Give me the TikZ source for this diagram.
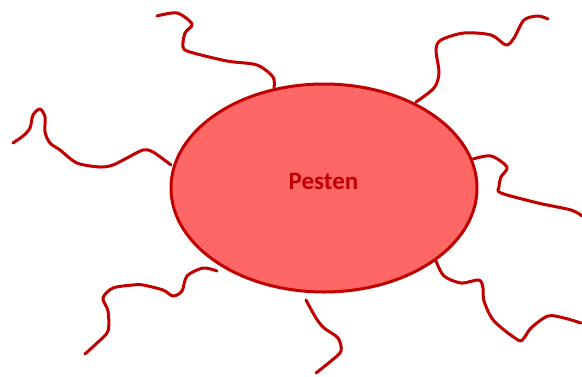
\documentclass[tikz,border=0pt]{standalone}
\usepackage{fontspec}
\setmainfont{Carlito}
\usetikzlibrary{shapes.geometric}
\definecolor{dred}{HTML}{C00000}
\definecolor{lred}{HTML}{FF6666}
\begin{document}
\begin{tikzpicture}[x=1pt,y=-1pt,
  strand/.style={draw=dred,line width=3pt,line cap=round,line join=round},
  hub/.style={ellipse,draw=dred,line width=3pt,fill=lred,minimum width=306pt,minimum height=208pt,inner sep=0pt},
  lbl/.style={font=\bfseries\fontsize{25}{28}\selectfont,text=dred,anchor=base}]
\useasboundingbox (0,0) rectangle (582,376);
\node[hub] (c) at (324,188) {};
\node[lbl] (t) at (323.5,189) {Pesten};
% strand endpoints
\coordinate (a1) at (157,16);
\coordinate (a2) at (13,143);
\coordinate (a3) at (548,19);
\coordinate (a4) at (582,216);
\coordinate (a5) at (581,323);
\coordinate (a6) at (316,373);
\coordinate (a7) at (85,354);
\begin{scope}[strand]
\draw plot[smooth,tension=0.5] coordinates {(274,88) (273,77) (257,65) (227,61) (190,52) (183,47) (185,33) (192,24) (177,13) (a1)};
\draw plot[smooth,tension=0.5] coordinates {(171,165) (153,152) (143,150) (127,158) (113,165) (100,167) (77,163) (60,150) (50,143) (45,132) (45,117) (40,109) (33,115) (30,128) (23,136) (a2)};
\draw plot[smooth,tension=0.5] coordinates {(416,102) (434,88) (439,73) (436,50) (441,40) (464,33) (491,35) (506,45) (514,38) (524,20) (538,16) (a3)};
\draw plot[smooth,tension=0.5] coordinates {(473,159) (491,156) (507,167) (501,177) (499,187) (501,193) (538,203) (571,210) (a4)};
\draw plot[smooth,tension=0.5] coordinates {(436,261) (444,276) (461,283) (479,280) (483,288) (484,301) (494,321) (518,340) (524,338) (531,328) (548,316) (564,318) (a5)};
\draw plot[smooth,tension=0.5] coordinates {(306,300) (316,318) (324,328) (338,338) (341,351) (331,361) (a6)};
\draw plot[smooth,tension=0.5] coordinates {(217,271) (203,268) (187,276) (182,291) (173,296) (163,290) (143,285) (133,285) (113,288) (103,298) (108,311) (108,331) (97,343) (a7)};
\end{scope}
\end{tikzpicture}
\end{document}
